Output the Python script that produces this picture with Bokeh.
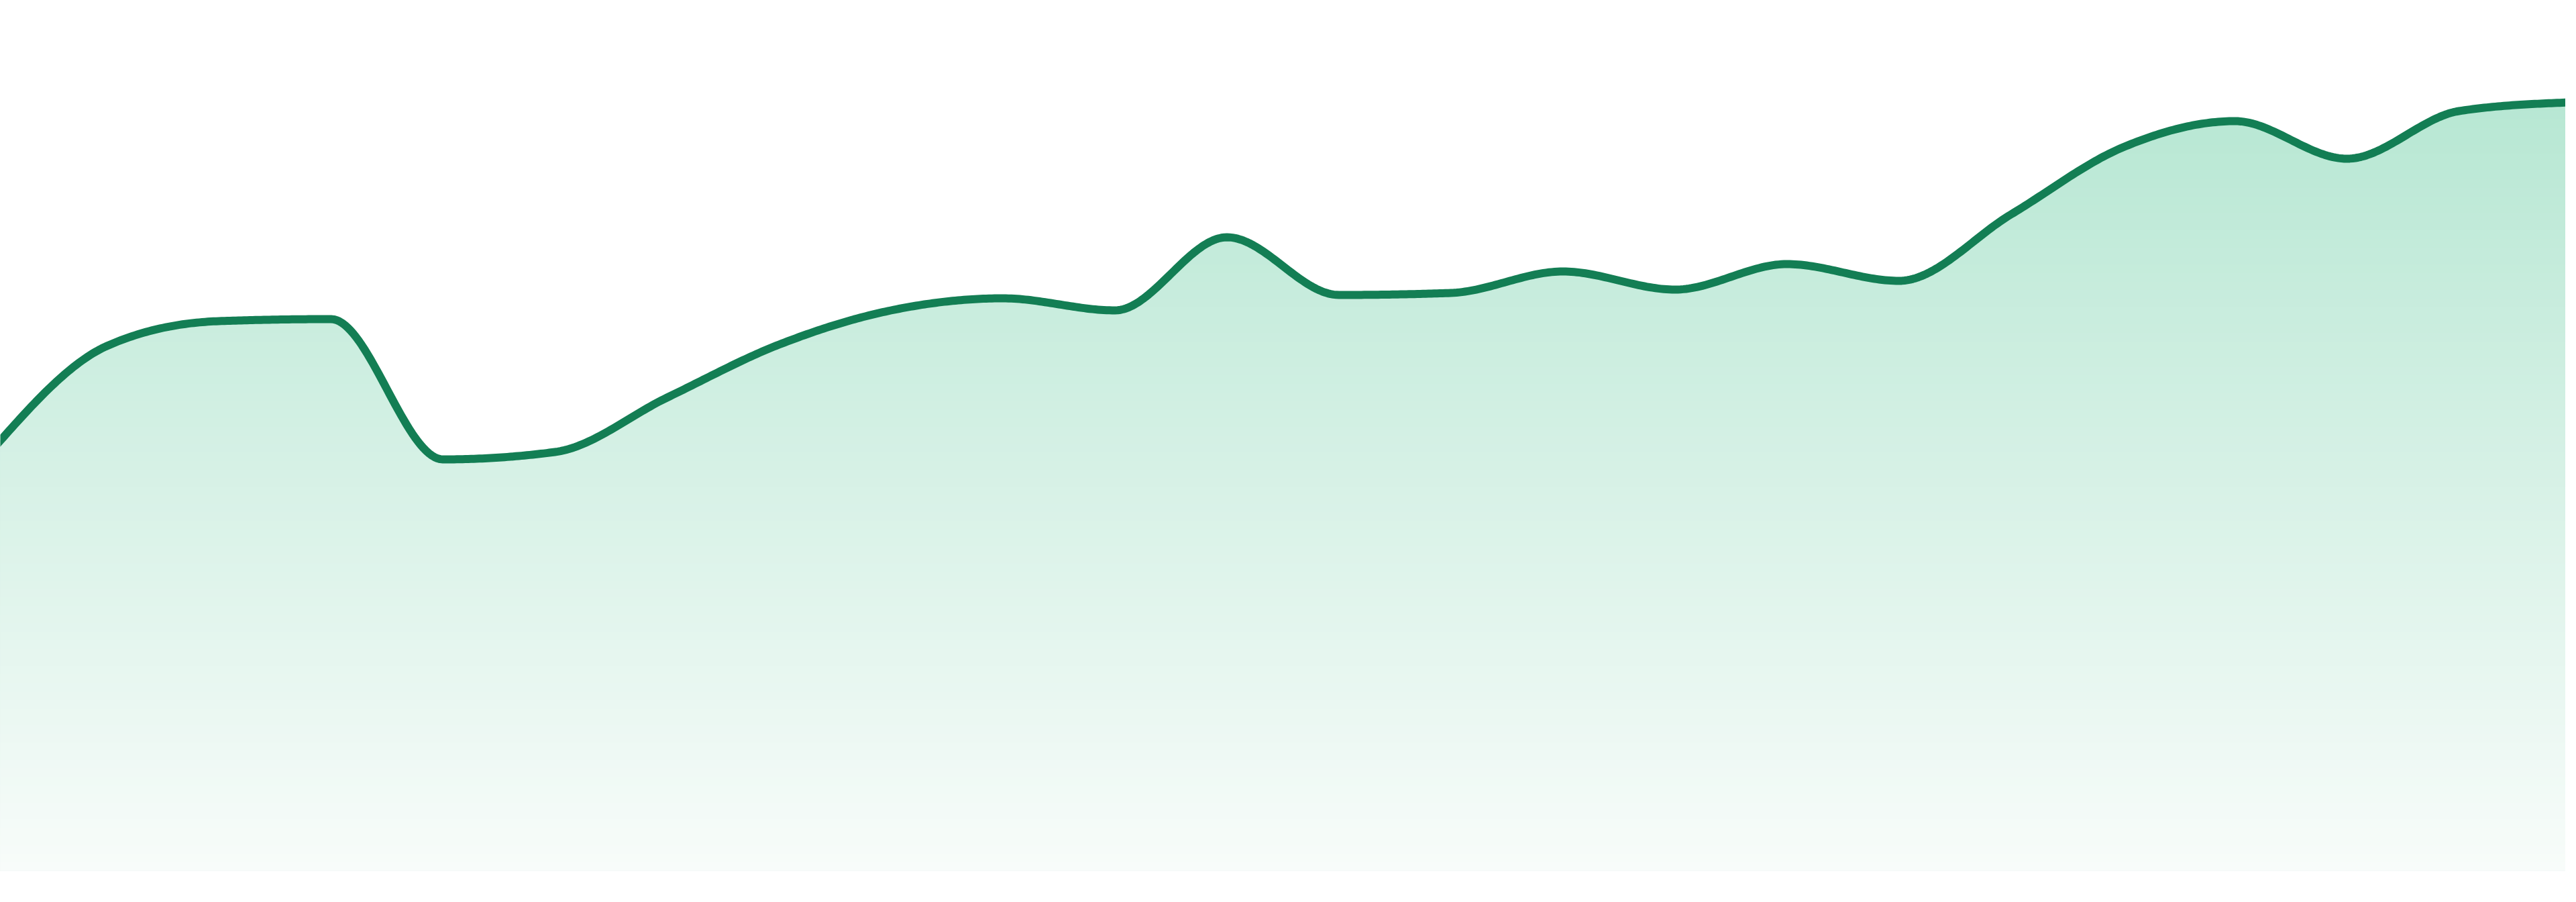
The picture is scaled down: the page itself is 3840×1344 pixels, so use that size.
import numpy as np

from bokeh.plotting import figure
from bokeh.models import Range1d
from bokeh.embed import file_html
from bokeh.resources import INLINE

# values, one per step
days = list(range(24))
values = [63.2, 78.2, 81.9, 82.2, 61.3, 62.4, 70.5, 78.4, 83.5, 85.3, 83.5, 94.4,
          85.8, 86.1, 89.3, 86.6, 90.4, 87.9, 97.8, 107.8, 111.7, 106.1, 113.2, 114.5]

LINE_COLOR = "#137e54"
TOP_RGB = (183, 231, 211)
BOTTOM_RGB = (248, 252, 250)


def monotone_curve(xs, ys, steps=40):
    """Monotone cubic (same idea as d3 curveMonotoneX), sampled densely."""
    xs = np.asarray(xs, float)
    ys = np.asarray(ys, float)
    n = len(xs)
    h = np.diff(xs)
    s = np.diff(ys) / h
    t = np.zeros(n)
    for i in range(1, n - 1):
        p = (s[i - 1] * h[i] + s[i] * h[i - 1]) / (h[i - 1] + h[i])
        t[i] = (np.sign(s[i - 1]) + np.sign(s[i])) * min(abs(s[i - 1]), abs(s[i]), 0.5 * abs(p))
    t[0] = (3 * s[0] - t[1]) / 2
    t[-1] = (3 * s[-1] - t[-2]) / 2

    out_x, out_y = [], []
    u = np.linspace(0, 1, steps, endpoint=False)
    for i in range(n - 1):
        dx = h[i]
        p0 = (xs[i], ys[i])
        p1 = (xs[i] + dx / 3, ys[i] + dx * t[i] / 3)
        p2 = (xs[i + 1] - dx / 3, ys[i + 1] - dx * t[i + 1] / 3)
        p3 = (xs[i + 1], ys[i + 1])
        a, b, c, d = (1 - u) ** 3, 3 * u * (1 - u) ** 2, 3 * u ** 2 * (1 - u), u ** 3
        out_x.extend(a * p0[0] + b * p1[0] + c * p2[0] + d * p3[0])
        out_y.extend(a * p0[1] + b * p1[1] + c * p2[1] + d * p3[1])
    out_x.append(xs[-1])
    out_y.append(ys[-1])
    return np.array(out_x), np.array(out_y)


cx, cy = monotone_curve(days, values)

# window is 3840x1344 with an 8px page margin all round: figure 3824x1328.
# data step is 3840/23 px wide, 10px per unit, baseline at page y 1305
px_per_step = 3840 / (len(days) - 1)
x_start = 8 / px_per_step
x_end = days[-1] - 8 / px_per_step
y_top = (1305 - 8) / 10

p = figure(width=3824, height=1328, output_backend="svg", toolbar_location=None,
           x_range=Range1d(x_start, x_end), y_range=Range1d(0, y_top),
           min_border_left=0, min_border_right=0, min_border_top=0, min_border_bottom=31)
p.axis.visible = False
p.grid.grid_line_color = None
p.outline_line_color = None
p.background_fill_color = "white"
p.border_fill_color = "white"

# vertical gradient fill: stack opaque bands, each clipped to the curve
vmax = max(values)
n_bands = 90
for k in range(n_bands):
    level = vmax * (1 - k / n_bands)
    f = (k + 0.5) / n_bands
    rgb = tuple(int(round(TOP_RGB[j] + (BOTTOM_RGB[j] - TOP_RGB[j]) * f)) for j in range(3))
    color = "#%02x%02x%02x" % rgb
    top = cy if k == 0 else np.minimum(cy, level)
    p.varea(x=cx, y1=0, y2=top, fill_color=color, fill_alpha=1.0)

p.line(cx, cy, line_color=LINE_COLOR, line_width=12, line_join="round", line_cap="round")

open("out.html", "w").write(file_html(p, INLINE))
